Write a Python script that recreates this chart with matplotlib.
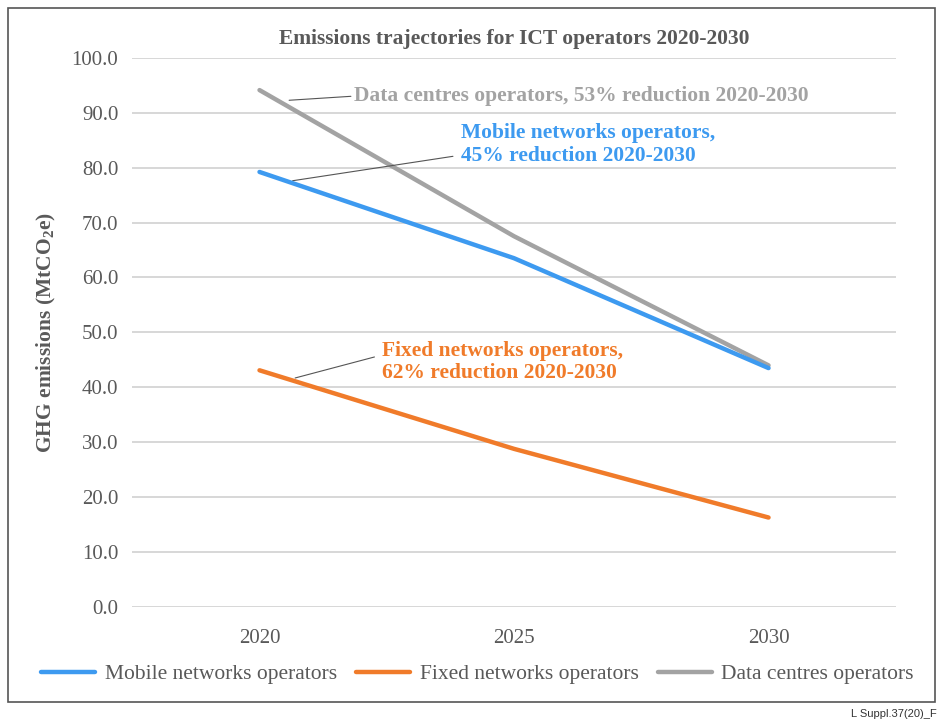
import matplotlib.pyplot as plt
from matplotlib.patches import Rectangle

years = ["2020", "2025", "2030"]
mobile = [79.2, 63.5, 43.5]
fixed = [43.1, 28.8, 16.3]
data_centres = [94.1, 67.5, 44.0]

yticks = [0, 10, 20, 30, 40, 50, 60, 70, 80, 90, 100]

c_mobile = "#3d9af0"
c_fixed = "#f07b2a"
c_dc = "#a3a3a3"
txt_grey = "#595959"

plt.rcParams["font.family"] = ["Liberation Serif", "DejaVu Serif"]
plt.rcParams["mathtext.fontset"] = "custom"
plt.rcParams["mathtext.rm"] = "Liberation Serif"
plt.rcParams["mathtext.bf"] = "Liberation Serif:bold"

fig = plt.figure(figsize=(9.38, 7.21), dpi=100)
ax = fig.add_axes([0.141, 0.158, 0.814, 0.762])

x = range(len(years))
ax.plot(x, data_centres, color=c_dc, lw=3.2, solid_capstyle="round", label="Data centres operators", zorder=3)
ax.plot(x, fixed, color=c_fixed, lw=3.2, solid_capstyle="round", label="Fixed networks operators", zorder=3)
ax.plot(x, mobile, color=c_mobile, lw=3.2, solid_capstyle="round", label="Mobile networks operators", zorder=4)

ax.set_xlim(-0.5, 2.5)
ax.set_ylim(0, 100)
ax.set_xticks(list(x))
ax.set_xticklabels(years)
ax.set_yticks(yticks)
ax.set_yticklabels([f"{v:.1f}" for v in yticks])
ax.tick_params(length=0, labelsize=15, labelcolor=txt_grey, pad=10)
ax.tick_params(axis="x", pad=16)
ax.grid(axis="y", color="#d4d4d4", lw=1.3)
ax.set_axisbelow(True)
for s in ax.spines.values():
    s.set_visible(False)

ax.set_ylabel("GHG emissions (MtCO$_\\mathbf{2}$e)", fontsize=15.5, fontweight="bold", color=txt_grey, labelpad=10)
ax.set_title("Emissions trajectories for ICT operators 2020-2030", fontsize=15.5, fontweight="bold",
             color=txt_grey, pad=10)

# annotations with leader lines
ax.annotate("Data centres operators, 53% reduction 2020-2030", xy=(0.1, 92.2), xytext=(0.37, 93.0),
            fontsize=15.5, color=c_dc, fontweight="bold", va="center",
            arrowprops=dict(arrowstyle="-", color="#555555", lw=0.8, shrinkA=0, shrinkB=3,
                            relpos=(0, 0.5)))
ax.annotate("Mobile networks operators,\n45% reduction 2020-2030", xy=(0.13, 77.6), xytext=(0.79, 84.2),
            fontsize=15.5, color=c_mobile, fontweight="bold", va="center", linespacing=1.15,
            arrowprops=dict(arrowstyle="-", color="#555555", lw=0.8, shrinkA=0, shrinkB=0,
                            relpos=(-0.03, 0.22)))
ax.annotate("Fixed networks operators,\n62% reduction 2020-2030", xy=(0.14, 41.7), xytext=(0.48, 44.6),
            fontsize=15.5, color=c_fixed, fontweight="bold", va="center", linespacing=1.15,
            arrowprops=dict(arrowstyle="-", color="#555555", lw=0.8, shrinkA=0, shrinkB=0,
                            relpos=(-0.03, 0.62)))

handles, labels = ax.get_legend_handles_labels()
order = [2, 1, 0]
fig.legend([handles[i] for i in order], [labels[i] for i in order], loc="center",
           bbox_to_anchor=(0.509, 0.065), ncol=3, frameon=False, fontsize=15.5,
           handlelength=2.5, columnspacing=0.9, handletextpad=0.45, labelcolor=txt_grey)

fig.patches.append(Rectangle((0.009, 0.027), 0.988, 0.962, transform=fig.transFigure,
                             fill=False, ec="#555555", lw=1.2))
fig.text(0.999, 0.003, "L Suppl.37(20)_F", ha="right", va="bottom", fontsize=8,
         family="Liberation Sans", color="#333333")
fig.savefig("out.png", dpi=100)
